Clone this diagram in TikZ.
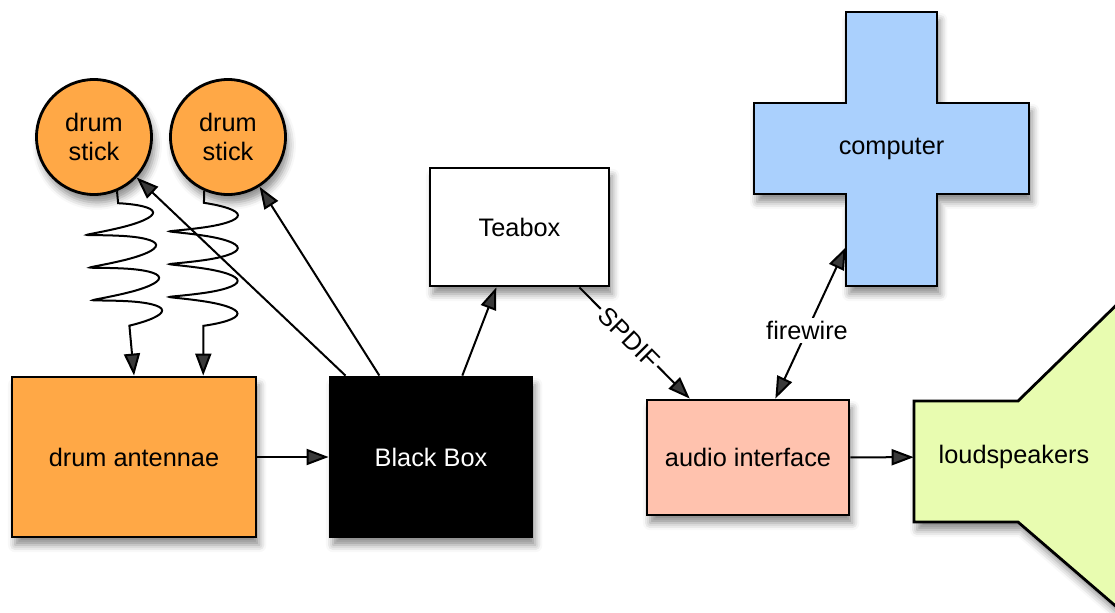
\documentclass[tikz,border=0pt]{standalone}
\usepackage{fontspec}
\setmainfont{Liberation Sans}
\usetikzlibrary{arrows.meta,decorations.pathmorphing,shadows.blur}

\definecolor{drumorange}{HTML}{FFA846}
\definecolor{audiopink}{HTML}{FFC2AE}
\definecolor{compblue}{HTML}{AAD0FD}
\definecolor{speakgreen}{HTML}{E8FCB0}

\tikzset{
	bigtip/.tip={Triangle[length=0.55cm,width=0.4cm]},
	softshadow/.style={blur shadow={shadow xshift=0.08cm, shadow yshift=-0.2cm, shadow blur radius=0.18cm, shadow opacity=45}},
	box/.style={draw, line width=0.07cm, softshadow, inner sep=0pt},
	stick/.style={box, circle, fill=drumorange, minimum size=2.875cm, align=center},
	conn/.style={line width=0.05cm, -bigtip},
	wave/.style={conn, decorate, decoration={coil, aspect=0.12, segment length=0.82cm, amplitude=0.85cm, pre length=0.3cm, post length=0.6cm}},
	lbl/.style={fill=white, inner sep=2pt}
}

\begin{document}
\begin{tikzpicture}[x=0.025cm, y=-0.025cm, font=\fontsize{18}{20.6}\selectfont]
	\path[use as bounding box, clip] (0,0) rectangle (1115,612);
	\node[stick] (s1) at (94,137) {drum\\stick};
	\node[stick] (s2) at (228,137) {drum\\stick};
	\node[box, fill=drumorange, minimum width=6.1cm, minimum height=4cm] (da) at (134,457) {drum antennae};
	\node[box, fill=black, text=white, minimum width=5.05cm, minimum height=4cm] (bb) at (431,457) {Black Box};
	\node[box, fill=white, minimum width=4.475cm, minimum height=2.95cm] (tb) at (519.5,227) {Teabox};
	\node[box, fill=audiopink, minimum width=5.05cm, minimum height=2.875cm] (ai) at (748,457.5) {audio interface};
	\draw[line width=0.07cm, fill=compblue, softshadow] (846,12) -- (937,12) -- (937,103) -- (1029,103) -- (1029,194) -- (937,194) -- (937,286) -- (846,286) -- (846,194) -- (754,194) -- (754,103) -- (846,103) -- cycle;
	\node[inner sep=0pt, minimum width=2.275cm, minimum height=6.85cm, label=center:computer] (pc) at (891.5,149) {};
	\draw[line width=0.07cm, fill=speakgreen, softshadow] (914,401) -- (1018,401) -- (1140,282) -- (1140,627) -- (1018,522) -- (914,522) -- cycle;
	\node[minimum width=5cm, minimum height=3cm] (ls) at (1014,457) {loudspeakers};

	\draw[wave] (s1.-67) -- (da.north);
	\draw[wave] (s2.-114) -- ([xshift=1.73cm]da.north);
	\draw[conn] (da) -- (bb);
	\draw[conn] (bb) -- (s1);
	\draw[conn] (bb) -- (s2);
	\draw[conn] (bb) -- (tb);
	\draw[conn] (tb) -- node[lbl, sloped, pos=0.45] {SPDIF} (ai);
	\draw[conn, bigtip-bigtip] (ai) -- node[lbl, pos=0.45] {firewire} (pc);
	\draw[conn] (ai) -- (ls);
\end{tikzpicture}
\end{document}
